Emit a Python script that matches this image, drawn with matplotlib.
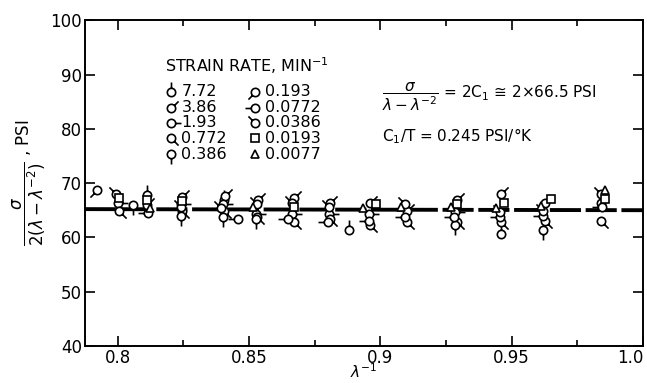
import numpy as np
import matplotlib
matplotlib.use("Agg")
import matplotlib.pyplot as plt
from matplotlib.path import Path

# strain rates in min^-1, one symbol each
rate_labels = ["7.72", "3.86", "1.93", "0.772", "0.386",
               "0.193", "0.0772", "0.0386", "0.0193", "0.0077"]

# x = lambda^-1 , y = sigma / 2(lambda - lambda^-2) in PSI
x_772 = [0.8110, 0.8405, 0.8882, 0.9458]
y_772 = [67.8, 66.8, 61.3, 60.6]

x_386 = [0.8113, 0.8245, 0.8410, 0.8535, 0.8670, 0.8810, 0.8960, 0.9100,
         0.9290, 0.9460, 0.9625, 0.9840]
y_386 = [66.0, 67.4, 67.6, 66.8, 67.3, 66.4, 66.4, 64.8, 66.8, 67.9, 66.4, 66.4]

x_193 = [0.8000, 0.8240, 0.8400, 0.8525, 0.8665, 0.8805, 0.8955, 0.9285]
y_193 = [66.4, 66.1, 66.1, 64.3, 64.3, 64.3, 64.3, 64.6]

x_0772 = [0.8005, 0.8245, 0.8405, 0.8530, 0.8670, 0.8810, 0.8960, 0.9100,
          0.9290, 0.9460, 0.9625, 0.9840]
y_0772 = [64.8, 64.8, 64.8, 63.8, 62.8, 63.4, 62.2, 62.8, 62.9, 62.8, 63.1, 63.1]

x_0386 = [0.8058, 0.8240, 0.8400, 0.8525, 0.9285, 0.9620]
y_0386 = [66.0, 64.0, 63.8, 63.4, 62.2, 61.3]

x_0193 = [0.7922]
y_0193 = [68.8]

x_00772 = [0.8115, 0.8459, 0.8650, 0.8800, 0.8955, 0.9095, 0.9280, 0.9455,
           0.9620, 0.9845]
y_00772 = [64.4, 63.4, 63.4, 62.8, 63.1, 63.8, 63.8, 63.7, 64.0, 65.5]

x_00386 = [0.7995, 0.8240, 0.8395, 0.8530, 0.8665, 0.8805, 0.9095, 0.9455,
           0.9620, 0.9838]
y_00386 = [68.0, 65.5, 65.4, 66.1, 66.4, 65.5, 66.2, 64.6, 64.9, 67.9]

x_00193 = [0.8005, 0.8110, 0.8245, 0.8670, 0.8985, 0.9290, 0.9470, 0.9650, 0.9855]
y_00193 = [67.2, 66.8, 66.7, 65.5, 66.2, 66.1, 66.4, 67.0, 67.0]

x_00077 = [0.8125, 0.8515, 0.8935, 0.9080, 0.9270, 0.9440, 0.9610, 0.9855]
y_00077 = [65.4, 65.5, 65.4, 65.5, 65.6, 65.4, 65.8, 68.8]

# fitted constant drawn as the dashed line
line_x = [0.7875, 1.0]
line_y = [65.2, 65.0]

x_ticks = [0.8, 0.85, 0.9, 0.95, 1.0]
x_tick_labels = ["0.8", "0.85", "0.9", "0.95", "1.0"]
y_ticks = [40, 50, 60, 70, 80, 90, 100]

series_x = [x_772, x_386, x_193, x_0772, x_0386, x_0193, x_00772, x_00386, x_00193, x_00077]
series_y = [y_772, y_386, y_193, y_0772, y_0386, y_0193, y_00772, y_00386, y_00193, y_00077]

# circle with a little tail, tail direction tells the strain rate
tail_angles = [90, 45, 0, -45, -90, -135, 180, 135, None, None]


def stem_marker(angle):
    a = np.radians(angle)
    circle = Path.circle((0, 0), 1.0)
    tail = Path([(np.cos(a), np.sin(a)), (2.4 * np.cos(a), 2.4 * np.sin(a))],
                [Path.MOVETO, Path.LINETO])
    path = Path.make_compound_path(circle, tail)
    # matplotlib rescales custom paths by their largest coordinate
    return path, np.abs(path.vertices).max()


def marker_style(i, size):
    if tail_angles[i] is None:
        if i == 8:
            return "s", size * 0.9
        return "^", size * 1.05
    path, scale = stem_marker(tail_angles[i])
    return path, size * scale


fig = plt.figure(figsize=(6.47, 3.83), dpi=100)
ax = fig.add_axes([0.131, 0.097, 0.863, 0.850])

ax.plot(line_x, line_y, color="black", lw=2.8, linestyle=(0, (8, 1.2)), zorder=2)

for i in range(len(series_x)):
    m, ms = marker_style(i, 6.0)
    ax.plot(series_x[i], series_y[i], linestyle="none", marker=m, ms=ms,
            mfc="white", mec="black", mew=1.2, zorder=3)

ax.set_xlim(0.7875, 1.0)
ax.set_ylim(40, 100)
ax.set_xticks(x_ticks)
ax.set_xticklabels(x_tick_labels)
ax.get_xticklabels()[-1].set_ha("right")
ax.set_xticks([0.825, 0.875, 0.925, 0.975], minor=True)
ax.set_yticks(y_ticks)
ax.tick_params(which="both", direction="in", top=True, right=True, width=1.2,
               labelsize=12, pad=2)
ax.tick_params(which="major", length=7)
ax.tick_params(which="minor", length=4)
for s in ax.spines.values():
    s.set_linewidth(1.4)

ax.set_xlabel(r"$\lambda^{-1}$", fontsize=11, labelpad=-3)
ax.set_ylabel(r"$\dfrac{\sigma}{2(\lambda-\lambda^{-2})}$ , PSI", fontsize=12, labelpad=2)

# hand drawn legend, two columns
ax.text(0.144, 0.86, r"STRAIN RATE, MIN$^{-1}$", transform=ax.transAxes,
        fontsize=11.5, va="center")
row_y = [0.781, 0.731, 0.686, 0.638, 0.588]
for i, lab in enumerate(rate_labels):
    col = i // 5
    mx = 0.155 + col * 0.150
    my = row_y[i % 5]
    m, ms = marker_style(i, 6.0)
    ax.plot([mx], [my], transform=ax.transAxes, linestyle="none", marker=m, ms=ms,
            mfc="white", mec="black", mew=1.2, clip_on=False)
    ax.text(mx + 0.018, my, lab, transform=ax.transAxes, fontsize=11.5, va="center")

ax.text(0.533, 0.765, r"$\dfrac{\sigma}{\lambda-\lambda^{-2}}$ = 2C$_1$ ≅ 2×66.5 PSI",
        transform=ax.transAxes, fontsize=11, va="center")
ax.text(0.533, 0.643, r"C$_1$/T = 0.245 PSI/°K", transform=ax.transAxes,
        fontsize=11, va="center")

fig.savefig("out.png", dpi=100)
